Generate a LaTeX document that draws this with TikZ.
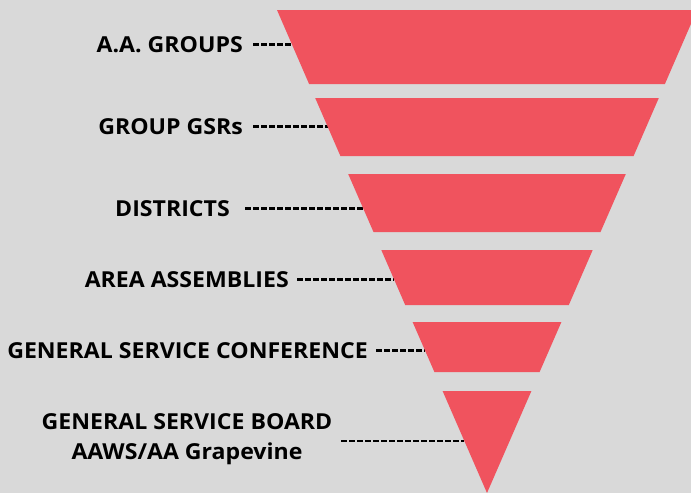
\documentclass[tikz,border=0pt]{standalone}
\usepackage{fontspec}
\setmainfont{Open Sans}[FakeStretch=1.05]
\usetikzlibrary{calc}
\definecolor{bgc}{HTML}{D9D9D9}
\definecolor{funnel}{HTML}{F0535E}
\tikzset{
  slice/.style={fill=funnel, draw=none},
  lab/.style={inner sep=0pt, font=\fontsize{22}{30}\selectfont\bfseries, text=black},
  dashline/.style={line width=2.8pt, dash pattern=on 5.5pt off 2.5pt, black}
}
\begin{document}
\begin{tikzpicture}[x=1pt,y=-1pt]
\useasboundingbox (0,0) rectangle (691,493);
\fill[bgc] (0,0) rectangle (691,493);
% labels
\node[lab, anchor=base east] (l1) at (243,52) {A.A. GROUPS};
\node[lab, anchor=base east] (l2) at (243,134) {GROUP GSRs};
\node[lab, anchor=base east] (l3) at (230,216) {DISTRICTS};
\node[lab, anchor=base east] (l4) at (289,287) {AREA ASSEMBLIES};
\node[lab, anchor=base east] (l5) at (368,358) {GENERAL SERVICE CONFERENCE};
\node[lab, align=center, anchor=center] (l6) at (187,439) {GENERAL SERVICE BOARD\\AAWS/AA Grapevine};
% edge coordinates on the funnel's left side
\coordinate (e1) at (291.7,44);
\coordinate (e2) at (327.8,127);
\coordinate (e3) at (363.5,209);
\coordinate (e4) at (393.9,279);
\coordinate (e5) at (424.8,350);
\coordinate (e6) at (464.4,441);
% dashed connectors
\draw[dashline] ($(l1.east)+(10,0)$) -- (l1.east -| e1);
\draw[dashline] ($(l2.east)+(10,0)$) -- (l2.east -| e2);
\draw[dashline] ($(l3.east)+(15,0)$) -- (l3.east -| e3);
\draw[dashline] ($(l4.east)+(8,0)$) -- (l4.east -| e4);
\draw[dashline] ($(l5.east)+(8,0)$) -- (l5.east -| e5);
\draw[dashline] ($(l6.east |- e6)+(9,0)$) -- (e6);
% funnel slices
\fill[slice] (277,10) -- (697,10) -- (664.9,84) -- (309.1,84) -- cycle;
\fill[slice] (315.2,98) -- (658.8,98) -- (633.6,156) -- (340.4,156) -- cycle;
\fill[slice] (348.2,174) -- (625.8,174) -- (600.5,232) -- (373.5,232) -- cycle;
\fill[slice] (381.3,250) -- (592.7,250) -- (568.8,305) -- (405.2,305) -- cycle;
\fill[slice] (412.6,322) -- (561.4,322) -- (539.6,372) -- (434.4,372) -- cycle;
\fill[slice] (442.6,391) -- (531.4,391) -- (487,493) -- cycle;
\end{tikzpicture}
\end{document}
